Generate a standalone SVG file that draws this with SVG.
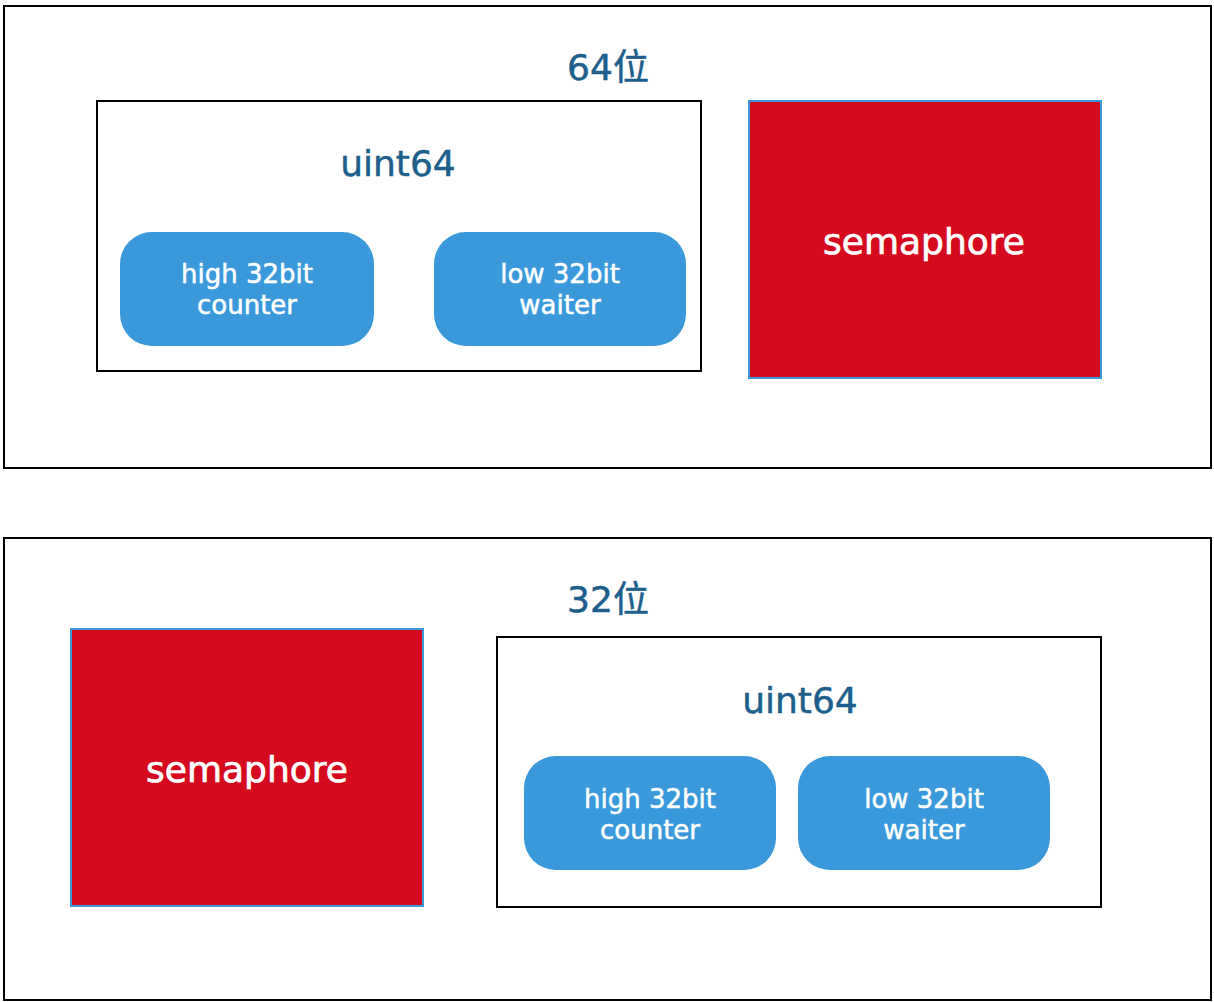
<svg xmlns="http://www.w3.org/2000/svg" width="1214" height="1002" viewBox="0 0 1214 1002">
<style>
.frame{fill:#fff;stroke:#000;stroke-width:2}
.sem{fill:#D50A1E;stroke:#3A99DA;stroke-width:2}
.pill{fill:#3A99DA}
.title{font-family:"DejaVu Sans","Noto Sans CJK SC",sans-serif;font-size:36px;fill:#1D5E8C;stroke:#1D5E8C;stroke-width:0.5;text-anchor:middle}
.semt{font-family:"DejaVu Sans",sans-serif;font-size:36px;fill:#fff;stroke:#fff;stroke-width:0.7;text-anchor:middle}
.pt{font-family:"DejaVu Sans",sans-serif;font-size:26px;fill:#fff;stroke:#fff;stroke-width:0.5;text-anchor:middle}
</style>
<rect width="1214" height="1002" fill="#fff"/>
<g id="outer64">
<rect class="frame" x="4" y="6" width="1207" height="462"/>
<text class="title" x="608" y="80">64位</text>
</g>
<g id="uint64-top">
<rect class="frame" x="97" y="101" width="604" height="270"/>
<text class="title" x="398" y="176">uint64</text>
</g>
<g id="high-top">
<rect class="pill" x="120" y="232" width="254" height="114" rx="32"/>
<text class="pt" x="247" y="283">high 32bit</text>
<text class="pt" x="247" y="314">counter</text>
</g>
<g id="low-top">
<rect class="pill" x="434" y="232" width="252" height="114" rx="32"/>
<text class="pt" x="560" y="283">low 32bit</text>
<text class="pt" x="560" y="314">waiter</text>
</g>
<g id="sem-top">
<rect class="sem" x="749" y="101" width="352" height="277"/>
<text class="semt" x="924" y="254">semaphore</text>
</g>
<g id="outer32">
<rect class="frame" x="4" y="538" width="1207" height="462"/>
<text class="title" x="608" y="612">32位</text>
</g>
<g id="sem-bottom">
<rect class="sem" x="71" y="629" width="352" height="277"/>
<text class="semt" x="247" y="782">semaphore</text>
</g>
<g id="uint64-bottom">
<rect class="frame" x="497" y="637" width="604" height="270"/>
<text class="title" x="800" y="713">uint64</text>
</g>
<g id="high-bottom">
<rect class="pill" x="524" y="756" width="252" height="114" rx="32"/>
<text class="pt" x="650" y="808">high 32bit</text>
<text class="pt" x="650" y="839">counter</text>
</g>
<g id="low-bottom">
<rect class="pill" x="798" y="756" width="252" height="114" rx="32"/>
<text class="pt" x="924" y="808">low 32bit</text>
<text class="pt" x="924" y="839">waiter</text>
</g>
<g id="connectors"></g>
</svg>
